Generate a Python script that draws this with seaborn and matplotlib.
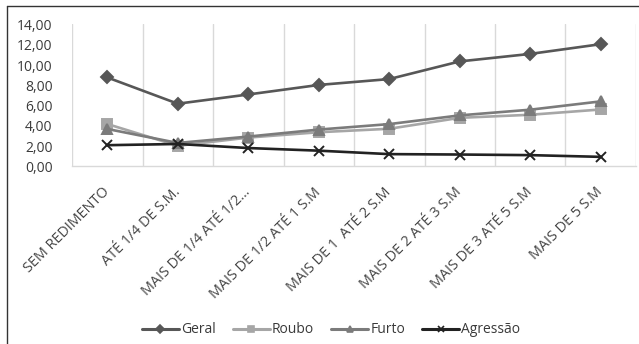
import matplotlib
matplotlib.use("Agg")
import matplotlib.pyplot as plt
from matplotlib.lines import Line2D
from matplotlib.ticker import FuncFormatter
import seaborn as sns
import pandas as pd

categorias = [
    "SEM REDIMENTO",
    "ATÉ 1/4 DE S.M.",
    "MAIS DE 1/4 ATÉ 1/2…",
    "MAIS DE 1/2 ATÉ 1 S.M",
    "MAIS DE 1  ATÉ 2 S.M",
    "MAIS DE 2 ATÉ 3 S.M",
    "MAIS DE 3 ATÉ 5 S.M",
    "MAIS DE 5 S.M",
]
geral = [8.78, 6.19, 7.10, 8.04, 8.62, 10.36, 11.10, 12.06]
roubo = [4.19, 2.04, 2.85, 3.38, 3.72, 4.80, 5.10, 5.62]
furto = [3.70, 2.32, 2.95, 3.64, 4.18, 5.04, 5.60, 6.42]
agressao = [2.10, 2.22, 1.82, 1.56, 1.22, 1.18, 1.12, 0.95]

series = {"Geral": geral, "Roubo": roubo, "Furto": furto, "Agressão": agressao}
cores = {"Geral": "#575757", "Roubo": "#a6a6a6", "Furto": "#7b7b7b", "Agressão": "#222222"}
marcadores = {"Geral": "D", "Roubo": "s", "Furto": "^", "Agressão": "x"}
tamanhos = {"Geral": 6.0, "Roubo": 6.5, "Furto": 7.0, "Agressão": 7.5}

sns.set_theme(style="white")
plt.rcParams["font.family"] = ["Open Sans", "DejaVu Sans"]

fig = plt.figure(figsize=(6.39, 3.44), dpi=100)
ax = fig.add_axes([0.1127, 0.516, 0.9953 - 0.1127, 0.9288 - 0.516])

for nome, vals in series.items():
    dfs = pd.DataFrame({"pos": range(len(vals)), "valor": vals})
    sns.lineplot(
        data=dfs, x="pos", y="valor", color=cores[nome], marker=marcadores[nome],
        linewidth=1.9, markersize=tamanhos[nome], markeredgewidth=1.4,
        markeredgecolor=cores[nome], ax=ax, legend=False,
    )

ax.set_xlim(-0.5, 7.5)
ax.set_ylim(0, 14)
ax.set_yticks(range(0, 15, 2))
ax.yaxis.set_major_formatter(FuncFormatter(lambda v, _: f"{v:.2f}".replace(".", ",")))
ax.set_xlabel("")
ax.set_ylabel("")

# vertical gridlines at category boundaries
for b in [i - 0.5 for i in range(9)]:
    ax.axvline(b, color="#d9d9d9", lw=1.0, zorder=0)

for s in ["top", "right", "left"]:
    ax.spines[s].set_visible(False)
ax.spines["bottom"].set_color("#d9d9d9")
ax.spines["bottom"].set_linewidth(1.0)

ax.tick_params(axis="y", length=0, pad=14, labelsize=10, labelcolor="#3a3a3a")
ax.tick_params(axis="x", length=0, pad=17, labelsize=10.4, labelcolor="#454545")

ax.set_xticks(range(len(categorias)))
ax.set_xticklabels(categorias, rotation=45, ha="right", va="center", rotation_mode="anchor")

handles = [
    Line2D([], [], color=cores[n], marker=marcadores[n], lw=2.2, ms=4.5,
           markeredgecolor=cores[n], markeredgewidth=1.2)
    for n in series
]
fig.legend(handles, list(series), loc="center", bbox_to_anchor=(0.518, 0.041),
           ncol=4, frameon=False, fontsize=10, handlelength=2.7,
           handletextpad=0.15, columnspacing=1.2, labelcolor="#3a3a3a")

# frame: top and left edges only
fig.add_artist(Line2D([6.5 / 639, 1.0], [1 - 5.7 / 344] * 2, transform=fig.transFigure,
                      color="#333333", lw=1.0))
fig.add_artist(Line2D([6.5 / 639] * 2, [0.0, 1 - 5.7 / 344], transform=fig.transFigure,
                      color="#333333", lw=1.0))

fig.savefig("out.png", dpi=100, facecolor="white")
